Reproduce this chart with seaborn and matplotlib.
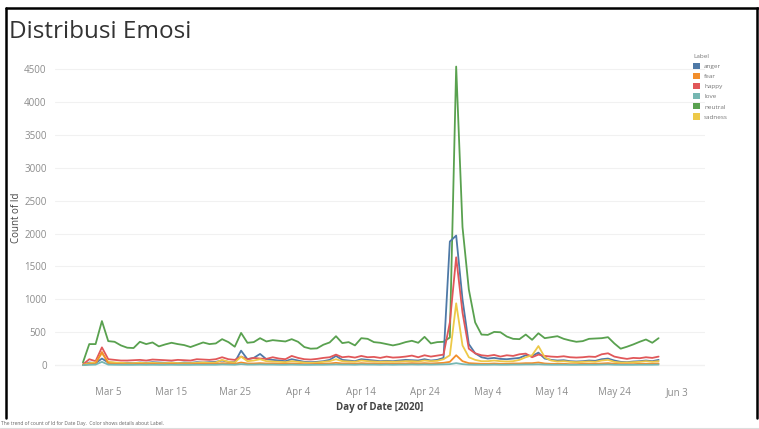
import pandas as pd
import numpy as np
import seaborn as sns
import matplotlib.pyplot as plt
from matplotlib.patches import Patch
from matplotlib.lines import Line2D

# daily counts per label, Mar 1 - May 31 2020
dates = pd.date_range('2020-03-01', '2020-05-31', freq='D')

neutral = [40, 320, 320, 670, 365, 355, 300, 265, 260, 355, 320, 345, 285, 315, 340, 320, 305, 275, 310, 345,
           320, 330, 395, 350, 280, 490, 340, 350, 410, 360, 380, 370, 360, 395, 355, 275, 250, 255, 310, 345,
           440, 335, 350, 300, 410, 400, 350, 340, 320, 300, 320, 350, 370, 340, 430, 330, 350, 355, 420, 4540,
           2100, 1150, 650, 465, 460, 505, 500, 435, 400, 395, 465, 385, 485, 410, 425, 440, 400, 375, 355, 365,
           400, 405, 410, 425, 330, 250, 280, 315, 355, 390, 340, 410]
happy = [10, 90, 60, 270, 90, 80, 70, 70, 75, 80, 70, 85, 80, 75, 70, 80, 75, 70, 90, 85,
         80, 90, 120, 90, 80, 130, 90, 110, 100, 95, 120, 100, 90, 140, 110, 90, 85, 95, 110, 120,
         160, 120, 130, 115, 140, 120, 125, 110, 130, 115, 120, 130, 145, 120, 150, 130, 145, 160, 650, 1640,
         800, 250, 180, 150, 140, 155, 130, 150, 140, 165, 175, 120, 160, 140, 130, 125, 135, 120, 115, 120,
         130, 125, 165, 180, 130, 110, 95, 110, 105, 120, 110, 130]
anger = [5, 40, 30, 100, 40, 35, 30, 35, 30, 40, 35, 45, 40, 35, 40, 30, 40, 35, 45, 40,
         45, 50, 70, 50, 45, 220, 90, 110, 170, 90, 80, 70, 60, 90, 70, 50, 45, 50, 60, 80,
         140, 80, 70, 60, 90, 80, 70, 60, 65, 60, 70, 80, 75, 70, 90, 70, 80, 110, 1880, 1970,
         1000, 320, 180, 120, 100, 110, 95, 90, 100, 110, 150, 140, 190, 100, 80, 70, 75, 60, 55, 60,
         70, 65, 90, 100, 70, 50, 45, 55, 60, 70, 60, 80]
sadness = [5, 30, 40, 180, 50, 40, 35, 30, 30, 35, 30, 35, 30, 30, 35, 30, 30, 30, 35, 40,
           35, 40, 80, 50, 40, 130, 60, 70, 90, 60, 55, 50, 45, 60, 50, 40, 35, 40, 50, 60,
           90, 60, 55, 50, 70, 60, 55, 50, 55, 50, 55, 60, 60, 55, 70, 60, 65, 90, 150, 940,
           300, 120, 80, 60, 60, 70, 60, 55, 60, 80, 120, 150, 290, 120, 70, 55, 60, 50, 45, 50,
           55, 50, 70, 80, 50, 40, 40, 45, 50, 60, 50, 60]
fear = [2, 15, 20, 200, 25, 20, 15, 15, 15, 20, 15, 20, 15, 15, 20, 15, 15, 15, 20, 20,
        20, 20, 30, 25, 20, 40, 25, 25, 30, 25, 25, 20, 20, 25, 20, 15, 15, 20, 20, 25,
        35, 25, 25, 20, 30, 25, 25, 20, 25, 20, 25, 25, 30, 25, 30, 25, 30, 35, 50, 150,
        60, 30, 25, 20, 20, 25, 20, 20, 25, 25, 30, 30, 40, 25, 20, 20, 20, 15, 15, 20,
        20, 20, 25, 30, 20, 15, 15, 15, 20, 20, 20, 25]
love = [0, 5, 8, 50, 8, 6, 5, 5, 5, 6, 5, 6, 5, 5, 6, 5, 5, 5, 6, 6,
        6, 6, 10, 8, 6, 15, 8, 8, 10, 8, 8, 6, 6, 8, 6, 5, 5, 6, 6, 8,
        10, 8, 8, 6, 10, 8, 8, 6, 8, 6, 8, 8, 10, 8, 10, 8, 10, 12, 15, 30,
        15, 8, 6, 6, 6, 8, 6, 6, 8, 8, 10, 10, 12, 8, 6, 6, 6, 5, 5, 6,
        6, 6, 8, 10, 6, 5, 5, 5, 6, 6, 6, 8]

labels = ['anger', 'fear', 'happy', 'love', 'neutral', 'sadness']
colors = ['#4e79a7', '#f28e2b', '#e15759', '#76b7b2', '#59a14f', '#edc948']
series = [anger, fear, happy, love, neutral, sadness]

y_ticks = [0, 500, 1000, 1500, 2000, 2500, 3000, 3500, 4000, 4500]
x_ticks = pd.date_range('2020-03-05', periods=10, freq='10D')
x_tick_labels = ['Mar 5', 'Mar 15', 'Mar 25', 'Apr 4', 'Apr 14', 'Apr 24', 'May 4', 'May 14', 'May 24', 'Jun 3']

df = pd.concat([pd.DataFrame({'date': dates, 'count': s, 'Label': lab}) for s, lab in zip(series, labels)])

sns.set_style('white')
plt.rcParams['font.family'] = ['Open Sans', 'DejaVu Sans']

fig = plt.figure(figsize=(7.59, 4.29), dpi=100)
ax = fig.add_axes([55 / 759, 1 - 375 / 429, 650 / 759, 315 / 429])

# neutral drawn first so the small series sit on top
order = ['neutral', 'anger', 'happy', 'sadness', 'fear', 'love']
sns.lineplot(data=df, x='date', y='count', hue='Label', hue_order=order,
             palette=dict(zip(labels, colors)), linewidth=1.3, ax=ax, legend=False)

ax.set_xlim(pd.Timestamp('2020-02-25 14:00'), pd.Timestamp('2020-06-07 08:00'))
ax.set_ylim(-150, 4640)
ax.set_yticks(y_ticks)
ax.set_xticks(x_ticks)
ax.set_xticklabels(x_tick_labels)
ax.tick_params(axis='both', colors='#8c8c8c', labelsize=7, length=0, pad=6)
ax.tick_params(axis='x', pad=8.5)
ax.yaxis.grid(True, color='#f1f1f1', linewidth=0.8)
ax.axhline(0, color='#dedede', linewidth=0.8, zorder=0)
for sp in ax.spines.values():
    sp.set_visible(False)

ax.set_xlabel('Day of Date [2020]', fontsize=7, fontweight='bold', color='#444444', labelpad=3)
ax.set_ylabel('Count of Id', fontsize=7, color='#444444')
ax.yaxis.set_label_coords(-33 / 650, 0.5)

fig.text(9 / 759, 1 - 32 / 429, 'Distribusi Emosi', fontsize=17.5, color='#333333', va='center', ha='left')
fig.text(1 / 759, 1 - 424 / 429, 'The trend of count of Id for Date Day.  Color shows details about Label.',
         fontsize=3.6, color='#666666', va='center', ha='left')

handles = [Patch(facecolor=c, edgecolor='none', label=l) for l, c in zip(labels, colors)]
leg = fig.legend(handles=handles, title='Label', loc='upper left', bbox_to_anchor=(690 / 759, 1 - 51 / 429),
                 fontsize=4.6, title_fontsize=4.6, frameon=False, handlelength=1.1, handleheight=1.1,
                 handletextpad=0.6, labelspacing=0.6, borderpad=0)
leg._legend_box.align = 'left'
for t in leg.get_texts():
    t.set_color('#777777')
leg.get_title().set_color('#777777')

# screenshot frame: black top/left/right, faint line at the bottom
frame = [((6, 759), (8, 8), 'black', 1.8), ((6, 6), (8, 418), 'black', 1.8),
         ((757, 757), (8, 418), 'black', 1.8), ((0, 759), (428, 428), '#dddddd', 0.8)]
for xs, ys, c, lw in frame:
    fig.add_artist(Line2D([x / 759 for x in xs], [1 - y / 429 for y in ys], color=c, linewidth=lw,
                          transform=fig.transFigure))

fig.savefig('out.png', dpi=100)
